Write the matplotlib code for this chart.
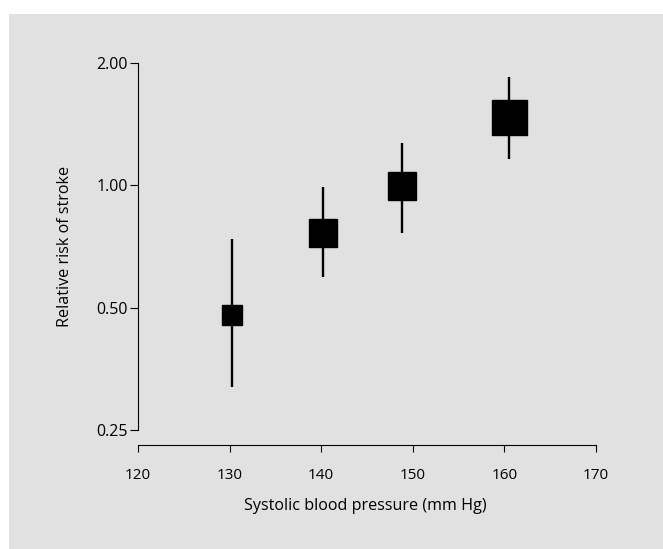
import matplotlib
matplotlib.use("Agg")
import matplotlib.pyplot as plt
from matplotlib.patches import Rectangle
from matplotlib.ticker import FixedLocator, NullLocator

# systolic blood pressure groups and relative risk of stroke
sbp = [130.3, 140.2, 148.8, 160.5]
risk = [0.48, 0.765, 0.995, 1.47]
ci_low = [0.32, 0.596, 0.765, 1.16]
ci_high = [0.74, 0.99, 1.27, 1.85]
box_size = [13.7, 20.4, 20.6, 25.2]   # marker size (pt), ~ weight of group

xticks = [120, 130, 140, 150, 160, 170]
yticks = [0.25, 0.5, 1.0, 2.0]
ylabels = ["0.25", "0.50", "1.00", "2.00"]

plt.rcParams['font.family'] = ['Open Sans', 'DejaVu Sans']

fig = plt.figure(figsize=(6.63, 5.49), dpi=100)
fig.patch.set_facecolor("white")
bg = Rectangle((9 / 663, 0), 1, (549 - 14) / 549, transform=fig.transFigure,
               facecolor="#e1e1e1", edgecolor="none", zorder=-10)
fig.patches.append(bg)

ax = fig.add_axes([138 / 663, 104 / 549, 458 / 663, 382 / 549])
ax.set_facecolor("none")
ax.set_yscale("log")
ax.set_xlim(120, 170)
ax.set_ylim(0.2302, 2.0)

for x, y, lo, hi, s in zip(sbp, risk, ci_low, ci_high, box_size):
    ax.plot([x, x], [lo, hi], color="black", lw=1.7, solid_capstyle="butt", zorder=2)
    ax.plot(x, y, marker="s", ms=s, color="black", mec="black", zorder=3)

ax.spines["top"].set_visible(False)
ax.spines["right"].set_visible(False)
ax.spines["left"].set_bounds(0.25, 2.0)
ax.spines["bottom"].set_bounds(120, 170)
for sp in ("left", "bottom"):
    ax.spines[sp].set_linewidth(0.8)

ax.yaxis.set_major_locator(FixedLocator(yticks))
ax.yaxis.set_minor_locator(NullLocator())
ax.set_yticklabels(ylabels)
ax.set_xticks(xticks)
ax.tick_params(axis="x", direction="out", length=5, width=0.8,
               labelsize=11, colors="black", pad=11.5)
ax.tick_params(axis="y", direction="out", length=5.5, width=0.8,
               labelsize=11.5, colors="black", pad=2)

ax.set_xlabel("Systolic blood pressure (mm Hg)", fontsize=11.6)
ax.set_ylabel("Relative risk of stroke", fontsize=11.6)
ax.xaxis.label.set_va("center")
ax.yaxis.label.set_va("center")
ax.xaxis.set_label_coords((365 - 138) / 458, (445 - 506.5) / 382)
ax.yaxis.set_label_coords((65 - 138) / 458, (445 - 246.5) / 382)

fig.savefig("out.png", dpi=100)
